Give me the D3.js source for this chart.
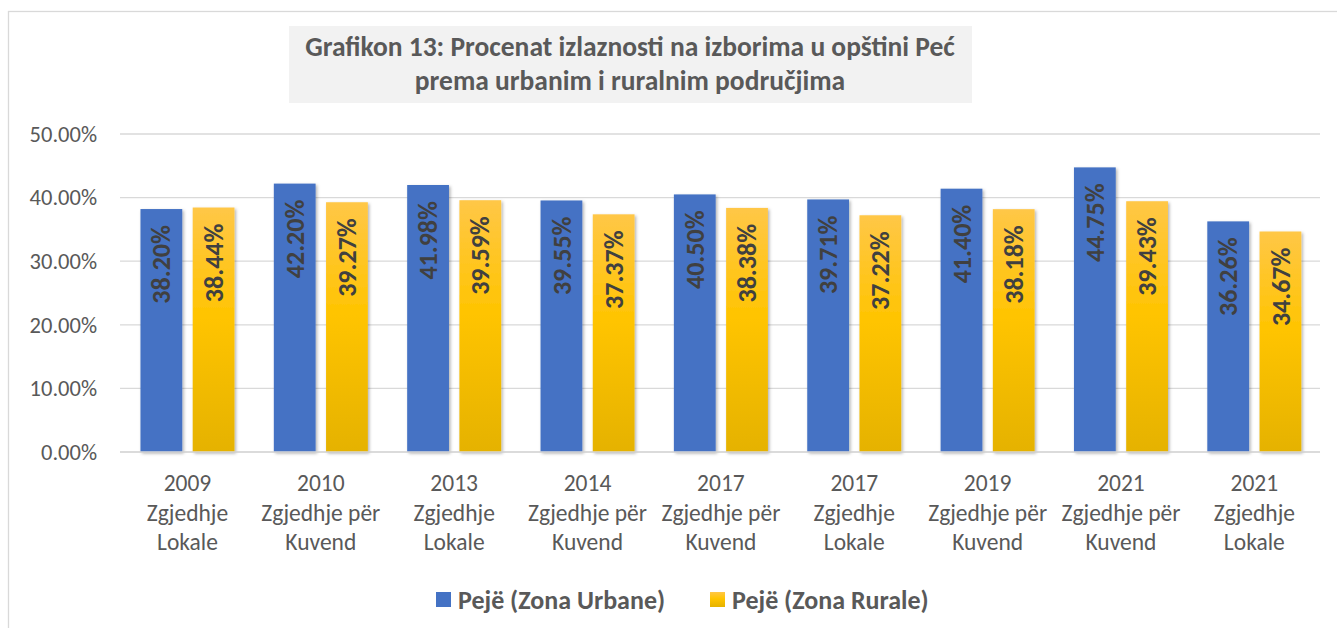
<!DOCTYPE html>
<html>
<head>
<meta charset="utf-8">
<script src="https://cdn.jsdelivr.net/npm/d3@7"></script>
<style>
  body { margin: 0; background: #fff; }
  svg { display: block; font-family: Carlito, Calibri, "Open Sans", sans-serif; }
</style>
</head>
<body>
<div id="chart"></div>
<script>
const years = ["2009", "2010", "2013", "2014", "2017", "2017", "2019", "2021", "2021"];
const types = [
  ["Zgjedhje", "Lokale"],
  ["Zgjedhje për", "Kuvend"],
  ["Zgjedhje", "Lokale"],
  ["Zgjedhje për", "Kuvend"],
  ["Zgjedhje për", "Kuvend"],
  ["Zgjedhje", "Lokale"],
  ["Zgjedhje për", "Kuvend"],
  ["Zgjedhje për", "Kuvend"],
  ["Zgjedhje", "Lokale"]
];
const urban = [38.20, 42.20, 41.98, 39.55, 40.50, 39.71, 41.40, 44.75, 36.26];
const rural = [38.44, 39.27, 39.59, 37.37, 38.38, 37.22, 38.18, 39.43, 34.67];
const seriesNames = ["Pejë (Zona Urbane)", "Pejë (Zona Rurale)"];
const yTicks = [0, 10, 20, 30, 40, 50];

const W = 1337, H = 628;
const svg = d3.select("#chart").append("svg").attr("width", W).attr("height", H);

const defs = svg.append("defs");
const grad = defs.append("linearGradient").attr("id", "goldGrad")
  .attr("x1", 0).attr("y1", 0).attr("x2", 0).attr("y2", 1);
grad.append("stop").attr("offset", "0%").attr("stop-color", "#ffc747");
grad.append("stop").attr("offset", "45%").attr("stop-color", "#ffc400");
grad.append("stop").attr("offset", "100%").attr("stop-color", "#e5b200");
const shadow = defs.append("filter").attr("id", "shadow")
  .attr("x", "-20%").attr("y", "-5%").attr("width", "150%").attr("height", "115%");
shadow.append("feDropShadow").attr("dx", 1.5).attr("dy", 1.5).attr("stdDeviation", 1.5)
  .attr("flood-color", "#000").attr("flood-opacity", 0.3);

// outer chart border
svg.append("rect").attr("x", 8.5).attr("y", 11.5).attr("width", W + 10).attr("height", H + 10)
  .attr("fill", "none").attr("stroke", "#d9d9d9").attr("stroke-width", 1.3);

// title box
svg.append("rect").attr("x", 289).attr("y", 26).attr("width", 683).attr("height", 77).attr("fill", "#f2f2f2");
const title = svg.append("text").attr("x", 630).attr("text-anchor", "middle")
  .attr("fill", "#595959").attr("font-weight", "bold").attr("font-size", 27.5);
title.append("tspan").attr("x", 630).attr("y", 56).text("Grafikon 13: Procenat izlaznosti na izborima u opštini Peć");
title.append("tspan").attr("x", 630).attr("y", 90).text("prema urbanim i ruralnim područjima");

const x0 = d3.scaleBand().domain(d3.range(years.length)).range([120.8, 1321]).paddingInner(0.295).paddingOuter(0.1475);
const x1 = d3.scaleBand().domain([0, 1]).range([0, x0.bandwidth()]).paddingInner(0.2);
const y = d3.scaleLinear().domain([0, 50]).range([452, 134]);

// gridlines
svg.append("g").selectAll("line").data(yTicks).join("line")
  .attr("x1", 120).attr("x2", 1320)
  .attr("y1", d => y(d)).attr("y2", d => y(d))
  .attr("stroke", "#d9d9d9").attr("stroke-width", 1.3);

// y labels
svg.append("g").selectAll("text").data(yTicks).join("text")
  .attr("x", 97).attr("y", d => y(d)).attr("dy", "0.35em")
  .attr("text-anchor", "end").attr("fill", "#595959").attr("font-size", 22.5)
  .text(d => d.toFixed(2) + "%");

const colors = ["#4472c4", "url(#goldGrad)"];
const series = [urban, rural];

series.forEach((vals, s) => {
  const g = svg.append("g");
  g.selectAll("rect").data(vals).join("rect")
    .attr("x", (d, i) => x0(i) + x1(s))
    .attr("y", d => y(d))
    .attr("width", x1.bandwidth())
    .attr("height", d => y(0) - y(d))
    .attr("fill", colors[s])
    .attr("filter", "url(#shadow)");
  g.selectAll("text").data(vals).join("text")
    .attr("transform", (d, i) => `translate(${x0(i) + x1(s) + x1.bandwidth() / 2},${y(d) + 16}) rotate(-90)`)
    .attr("text-anchor", "end").attr("dy", "0.35em")
    .attr("fill", "#404040").attr("font-weight", "bold").attr("font-size", 26)
    .text(d => d.toFixed(2) + "%");
});

// baseline
svg.append("line").attr("x1", 120).attr("x2", 1320).attr("y1", y(0)).attr("y2", y(0))
  .attr("stroke", "#d9d9d9").attr("stroke-width", 1.3);

// x labels
const xl = svg.append("g").selectAll("text").data(years).join("text")
  .attr("text-anchor", "middle").attr("fill", "#595959").attr("font-size", 23.5);
xl.each(function (d, i) {
  const cx = x0(i) + x0.bandwidth() / 2;
  const t = d3.select(this);
  [d, ...types[i]].forEach((line, k) => {
    t.append("tspan").attr("x", cx).attr("y", 491 + k * 29.5).text(line);
  });
});

// legend
const legendX = [436, 710];
seriesNames.forEach((name, s) => {
  svg.append("rect").attr("x", legendX[s]).attr("y", 592).attr("width", 15).attr("height", 15)
    .attr("fill", colors[s]);
  svg.append("text").attr("x", legendX[s] + 22).attr("y", 599.5).attr("dy", "0.35em")
    .attr("fill", "#595959").attr("font-weight", "bold").attr("font-size", 26)
    .text(name);
});
</script>
</body>
</html>
